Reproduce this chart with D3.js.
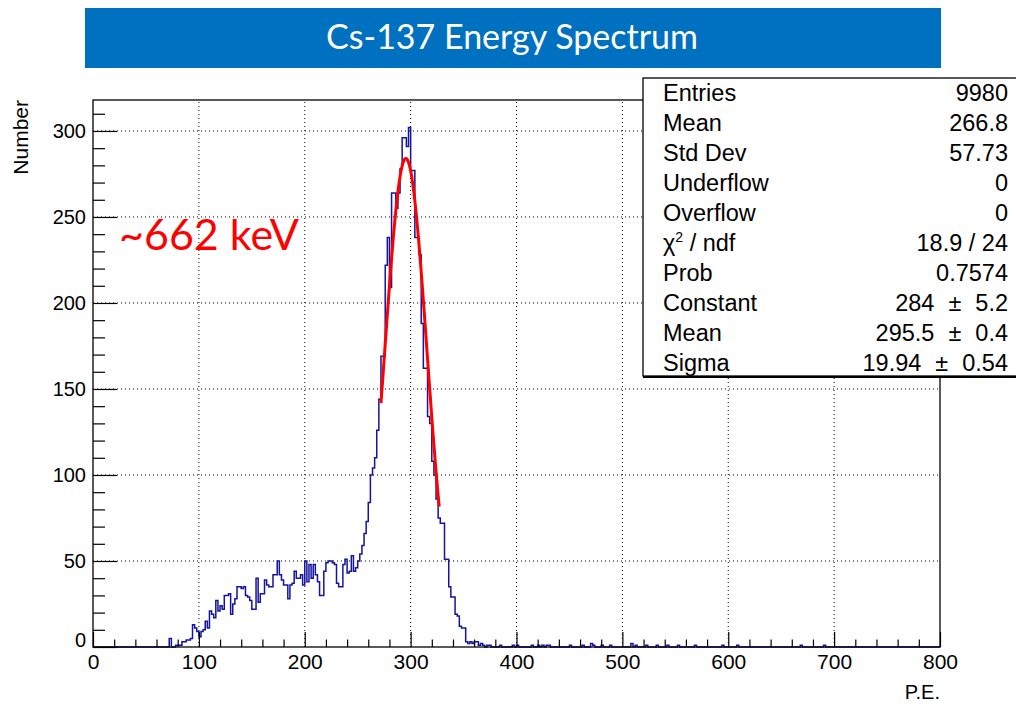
<!DOCTYPE html>
<html><head><meta charset="utf-8">
<script src="https://cdn.jsdelivr.net/npm/d3@7"></script>
<style>body{margin:0;background:#fff}svg{display:block}</style>
</head><body>
<script>
// ---------------- data ----------------
const titleText = "Cs-137 Energy Spectrum";
const annotation = "~662 keV";
const binWidth = 2;
const mainStart = 70;            // left edge of first listed bin
const mainCounts = [
  0,5,0,0,1,1,1,3,3,4,
  4,5,13,11,9,6,9,10,15,11,
  21,19,17,27,21,24,22,30,30,31,
  19,25,28,35,35,34,35,30,29,27,
  22,22,40,26,31,31,39,36,35,35,
  42,42,50,42,39,36,36,28,36,37,
  44,40,40,42,36,50,38,48,40,48,
  42,38,30,30,44,49,50,50,49,48,
  37,35,35,48,51,43,44,53,44,46,
  50,54,59,66,73,84,100,104,110,126,
  144,169,169,222,238,209,264,264,255,264,
  278,296,296,291,302,277,277,238,238,228,
  188,162,162,134,130,108,100,86,75,72,
  72,51,51,35,29,29,19,18,12,11,
  11,3,2,3,2,3,3,1,2,1,
  0
];
const tailStarts = [372,374,384,396,400,414,420,424,428,430,450,462,470,472,480,488,508,512,522,532,542,552,568,594,608,668,690];
const tailCounts = [1,1,1,1,1,1,1,1,1,1,1,1,2,1,1,1,2,1,1,1,1,1,1,1,1,1,1];
const fitConstant = 284, fitMean = 295.5, fitSigma = 19.94;
const fitRange = [272, 327];
const xTicks = [0,100,200,300,400,500,600,700,800];
const yTicks = [0,50,100,150,200,250,300];
const xTitle = "P.E.";
const yTitle = "Number";
const statLabels = ["Entries","Mean","Std Dev","Underflow","Overflow","CHI","Prob","Constant","Mean","Sigma"];
const statValues = ["9980","266.8","57.73","0","0","18.9 / 24","0.7574","284 \u00b1 5.2","295.5 \u00b1 0.4","19.94 \u00b1 0.54"];

// ---------------- layout ----------------
const W = 1016, H = 707;
const svg = d3.select("body").append("svg").attr("width", W).attr("height", H);
const x = d3.scaleLinear().domain([0, 800]).range([93, 940]);
const y = d3.scaleLinear().domain([0, 318]).range([647, 100]);

// title bar
svg.append("rect").attr("x", 85).attr("y", 8).attr("width", 856).attr("height", 60).attr("fill", "#0070C0");
svg.append("text").attr("x", 512).attr("y", 49).attr("text-anchor", "middle")
  .attr("font-family", "Lato, 'Open Sans', sans-serif").attr("font-size", 34).attr("fill", "#fff").text(titleText);

// histogram bins
const nBins = 400;
const counts = new Array(nBins).fill(0);
mainCounts.forEach((c, i) => { counts[(mainStart + i * binWidth) / binWidth] = c; });
tailStarts.forEach((s, i) => { counts[s / binWidth] = tailCounts[i]; });
const pts = counts.map((c, i) => [i * binWidth, c]);
pts.push([800, counts[nBins - 1]]);

// grid
const grid = svg.append("g").attr("stroke", "#000").attr("stroke-width", 1).attr("stroke-dasharray", "1,3");
xTicks.slice(1, -1).forEach(v => grid.append("line").attr("x1", x(v)).attr("x2", x(v)).attr("y1", y(0)).attr("y2", 100));
yTicks.slice(1).forEach(v => grid.append("line").attr("x1", 93).attr("x2", 940).attr("y1", y(v)).attr("y2", y(v)));

// histogram
svg.append("path").datum(pts)
  .attr("d", d3.line().x(d => x(d[0])).y(d => y(d[1])).curve(d3.curveStepAfter))
  .attr("fill", "none").attr("stroke", "#1414a0").attr("stroke-width", 1.5);

// fit
const fitPts = d3.range(fitRange[0], fitRange[1] + 0.01, 0.25).map(v => [v, fitConstant * Math.exp(-0.5 * Math.pow((v - fitMean) / fitSigma, 2))]);
svg.append("path").datum(fitPts)
  .attr("d", d3.line().x(d => x(d[0])).y(d => y(d[1])))
  .attr("fill", "none").attr("stroke", "#ff0000").attr("stroke-width", 3);

// axes
const fontAxis = "'Liberation Sans', Arial, sans-serif";
const xMinor = d3.range(0, 801, 20).filter(v => v % 100 !== 0);
const yMinor = d3.range(0, 319, 10).filter(v => v % 50 !== 0);
const gx = svg.append("g").attr("transform", `translate(0,${y(0)})`)
  .call(d3.axisBottom(x).tickValues(xTicks).tickFormat(d3.format("d")).tickSize(-15).tickPadding(7));
svg.append("g").attr("transform", `translate(0,${y(0)})`)
  .call(d3.axisBottom(x).tickValues(xMinor).tickFormat("").tickSize(-7.5));
const gy = svg.append("g").attr("transform", `translate(93,0)`)
  .call(d3.axisLeft(y).tickValues(yTicks).tickFormat(d3.format("d")).tickSize(-24).tickPadding(7));
svg.append("g").attr("transform", `translate(93,0)`)
  .call(d3.axisLeft(y).tickValues(yMinor).tickFormat("").tickSize(-12));
svg.selectAll(".domain").remove();
svg.selectAll(".tick line").attr("stroke", "#000").attr("stroke-width", 1.2);
gx.selectAll("text").attr("font-family", fontAxis).attr("font-size", 21).attr("fill", "#000");
gy.selectAll("text").attr("font-family", fontAxis).attr("font-size", 20).attr("fill", "#000");
gy.selectAll(".tick").filter(d => d === 0).select("text").attr("dy", "-0.05em");

// frame
svg.append("rect").attr("x", 93).attr("y", 100).attr("width", 847).attr("height", 547)
  .attr("fill", "none").attr("stroke", "#000").attr("stroke-width", 1.3);

// axis titles
svg.append("text").attr("transform", "translate(28,100) rotate(-90)").attr("text-anchor", "end")
  .attr("font-family", fontAxis).attr("font-size", 21).text(yTitle);
svg.append("text").attr("x", 940).attr("y", 699).attr("text-anchor", "end")
  .attr("font-family", fontAxis).attr("font-size", 20).text(xTitle);

// annotation
svg.append("text").attr("x", 119).attr("y", 250).attr("font-family", "Lato, 'Open Sans', sans-serif")
  .attr("font-size", 43).attr("fill", "#ff0000").text(annotation);

// stats box
svg.append("rect").attr("x", 643).attr("y", 78).attr("width", 400).attr("height", 298)
  .attr("fill", "#fff").attr("stroke", "#000").attr("stroke-width", 1.3);
svg.append("line").attr("x1", 643).attr("x2", 1016).attr("y1", 377).attr("y2", 377).attr("stroke", "#000").attr("stroke-width", 2);
const st = svg.append("g").attr("font-family", fontAxis).attr("font-size", 23.5).attr("fill", "#000");
statLabels.forEach((l, i) => {
  const yy = 101 + i * 30;
  const t = st.append("text").attr("x", 663).attr("y", yy);
  if (l === "CHI") {
    t.append("tspan").text("\u03c7");
    t.append("tspan").attr("font-size", 14).attr("dy", -9).text("2");
    t.append("tspan").attr("dy", 9).text(" / ndf");
  } else t.text(l);
  const v = st.append("text").attr("x", 1008).attr("y", yy).attr("text-anchor", "end");
  const parts = statValues[i].split(" \u00b1 ");
  if (parts.length === 2) {
    v.append("tspan").text(parts[0]);
    v.append("tspan").attr("dx", 14).text("\u00b1");
    v.append("tspan").attr("dx", 14).text(parts[1]);
  } else v.text(statValues[i]);
});
</script>
</body></html>
